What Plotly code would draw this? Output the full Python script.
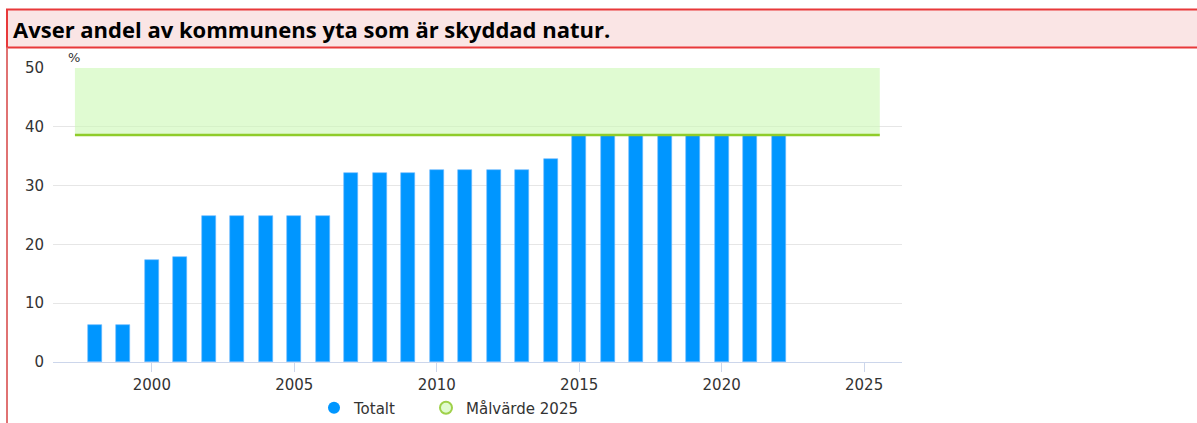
import plotly.graph_objects as go

# ---- data ----
years = list(range(1998, 2023))
totalt = [6.3, 6.3, 17.3, 17.8, 24.8, 24.8, 24.8, 24.8, 24.8,
          32.2, 32.2, 32.2, 32.7, 32.7, 32.7, 32.7, 34.5,
          38.6, 38.6, 38.6, 38.6, 38.6, 38.6, 38.6, 38.6]
target_value = 38.6
target_top = 50
target_span = [1997.3, 2025.55]
x_ticks = [2000, 2005, 2010, 2015, 2020, 2025]
y_ticks = [0, 10, 20, 30, 40, 50]
title_text = "Avser andel av kommunens yta som är skyddad natur."
series_names = ["Totalt", "Målvärde 2025"]

W, H = 1197, 423
L, R, T, B = 53, 902, 68, 362  # plot area in pixels


def px(x):
    return (x - L) / (R - L)


def py(y):
    return (B - y) / (B - T)


fig = go.Figure()

fig.add_trace(go.Bar(
    x=years, y=totalt, width=0.49,
    marker=dict(color="#0096ff", line=dict(width=0.6, color="#6cb8ff")),
    showlegend=False, name=series_names[0],
))

# target band upper edge (invisible), then target line filling up to it
fig.add_trace(go.Scatter(
    x=target_span, y=[target_top, target_top], mode="lines",
    line=dict(width=0, color="rgba(0,0,0,0)"), showlegend=False, hoverinfo="skip",
))
fig.add_trace(go.Scatter(
    x=target_span, y=[target_value, target_value], mode="lines",
    line=dict(width=2.5, color="#8fcc2a"), fill="tonexty",
    fillcolor="rgba(204,248,180,0.6)", showlegend=False, name=series_names[1],
))

# legend entries
fig.add_trace(go.Scatter(
    x=[None], y=[None], mode="markers", name=series_names[0], legend="legend",
    marker=dict(symbol="circle", size=13, color="#0096ff", line=dict(width=0)),
))
fig.add_trace(go.Scatter(
    x=[None], y=[None], mode="markers", name=series_names[1], legend="legend2",
    marker=dict(symbol="circle", size=13, color="#e0fbcf", line=dict(width=1.5, color="#9fd14a")),
))

font = "DejaVu Sans"
legend_common = dict(
    orientation="h", xanchor="left", y=py(408), yanchor="middle",
    font=dict(family=font, size=15, color="#333333"),
    itemsizing="constant", bgcolor="rgba(0,0,0,0)",
)

fig.update_layout(
    width=W, height=H,
    margin=dict(l=L, r=W - R, t=T, b=H - B, autoexpand=False),
    paper_bgcolor="white", plot_bgcolor="white",
    font=dict(family=font, size=14, color="#333333"),
    bargap=0,
    xaxis=dict(
        range=[1996.53, 2026.33], tickvals=x_ticks, ticks="outside",
        ticklen=9, tickcolor="#ccd6eb", tickwidth=1,
        showgrid=False, zeroline=False, showline=True, linecolor="#ccd6eb",
        linewidth=1, tickfont=dict(family=font, size=15, color="#333333"),
    ),
    yaxis=dict(
        range=[0, 50], tickvals=y_ticks, showgrid=True, gridcolor="#e6e6e6",
        gridwidth=1, zeroline=False, showline=False, ticks="",
        ticklabelstandoff=8,
        tickfont=dict(family=font, size=15, color="#333333"),
    ),
    legend=dict(x=px(314), **legend_common),
    legend2=dict(x=px(426), **legend_common),
    shapes=[
        dict(type="rect", xref="paper", yref="paper",
             x0=px(7), x1=px(1210), y0=py(47.5), y1=py(9.5),
             fillcolor="#fae5e5", line=dict(color="#e8393a", width=2), layer="below"),
        dict(type="line", xref="paper", yref="paper",
             x0=px(7), x1=px(7), y0=py(47.5), y1=py(430),
             line=dict(color="#e07272", width=2)),
    ],
    annotations=[
        dict(text=f"<b>{title_text}</b>", xref="paper", yref="paper",
             x=px(11), y=py(29), xanchor="left", yanchor="middle", showarrow=False,
             font=dict(family="Open Sans", size=22, color="#000000")),
        dict(text="%", xref="paper", yref="paper", x=px(74), y=py(58),
             xanchor="center", yanchor="middle", showarrow=False,
             font=dict(family=font, size=13, color="#333333")),
    ],
)

fig.write_html("out.html", config={"displayModeBar": False},
               post_script="document.body.style.margin='0px';")
